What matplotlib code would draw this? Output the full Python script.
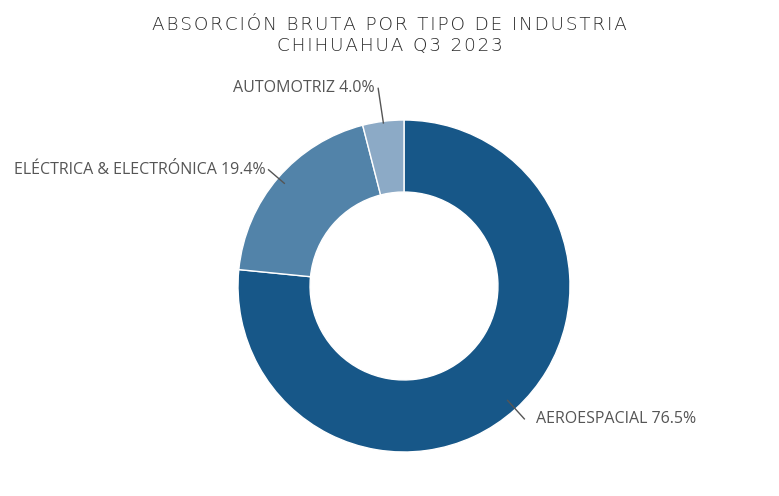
import numpy as np
import matplotlib
matplotlib.use("Agg")
import matplotlib.pyplot as plt

categories = ["AEROESPACIAL", "ELÉCTRICA & ELECTRÓNICA", "AUTOMOTRIZ"]
values = [76.5, 19.4, 4.0]
colors = ["#175788", "#5283a9", "#8caac6"]
title_lines = ["ABSORCIÓN BRUTA POR TIPO DE INDUSTRIA", "CHIHUAHUA Q3 2023"]

W, H = 779, 496
fig = plt.figure(figsize=(W / 100, H / 100), dpi=100)
cx, cy, R = 404, 286, 166
ax = fig.add_axes([(cx - R) / W, (H - cy - R) / H, 2 * R / W, 2 * R / H])

wedges, _ = ax.pie(values, colors=colors, startangle=90, counterclock=False,
                   radius=1.0, wedgeprops=dict(width=0.434, edgecolor="white", linewidth=1),
                   normalize=True)
ax.set_xlim(-1, 1)
ax.set_ylim(-1, 1)
ax.set_aspect("equal")
ax.axis("off")

# label connectors
params = {0: (0.93, 1.08, "left"), 1: (0.95, 1.075, "right"), 2: (0.99, 1.2, "right")}
for i, w in enumerate(wedges):
    mid = np.deg2rad((w.theta1 + w.theta2) / 2)
    r0, r1, ha = params[i]
    x0, y0 = r0 * np.cos(mid), r0 * np.sin(mid)
    x1, y1 = r1 * np.cos(mid), r1 * np.sin(mid)
    if i == 2:
        x1 -= 0.005
    ax.plot([x0, x1], [y0, y1], color="#555555", lw=1, clip_on=False)
    off = 0.07 if ha == "left" else -0.02
    ax.text(x1 + off, y1, f"{categories[i]} {values[i]:.1f}%", ha=ha, va="center",
            fontsize=11.5, color="#555555", family="Open Sans")

sp = "\u200a"
for j, line in enumerate(title_lines):
    txt = sp.join(line)
    fig.text(0.5, 1 - (25 + j * 21) / H, txt, ha="center", va="center",
             fontsize=13.2, color="#2a2a2a", family="DejaVu Sans", fontweight="light")

fig.savefig("out.png", dpi=100, facecolor="white")
